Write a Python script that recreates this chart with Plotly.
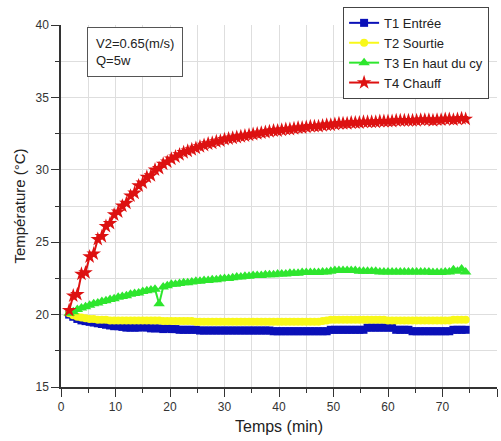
import plotly.graph_objects as go

# Time (min)
temps = [1.5, 2.25, 3.0, 3.75, 4.5, 5.25, 6.0, 6.75, 7.5, 8.25,
         9.0, 9.75, 10.5, 11.25, 12.0, 12.75, 13.5, 14.25, 15.0, 15.75,
         16.5, 17.25, 18.0, 18.75, 19.5, 20.25, 21.0, 21.75, 22.5, 23.25,
         24.0, 24.75, 25.5, 26.25, 27.0, 27.75, 28.5, 29.25, 30.0, 30.75,
         31.5, 32.25, 33.0, 33.75, 34.5, 35.25, 36.0, 36.75, 37.5, 38.25,
         39.0, 39.75, 40.5, 41.25, 42.0, 42.75, 43.5, 44.25, 45.0, 45.75,
         46.5, 47.25, 48.0, 48.75, 49.5, 50.25, 51.0, 51.75, 52.5, 53.25,
         54.0, 54.75, 55.5, 56.25, 57.0, 57.75, 58.5, 59.25, 60.0, 60.75,
         61.5, 62.25, 63.0, 63.75, 64.5, 65.25, 66.0, 66.75, 67.5, 68.25,
         69.0, 69.75, 70.5, 71.25, 72.0, 72.75, 73.5, 74.25]

t1_entree = [20.0, 19.85, 19.7, 19.6, 19.55, 19.5, 19.45, 19.4, 19.35, 19.3,
             19.25, 19.2, 19.2, 19.15, 19.1, 19.1, 19.1, 19.1, 19.15, 19.1,
             19.05, 19.05, 19.05, 19.0, 19.05, 19.0, 19.0, 18.95, 18.95, 18.95,
             18.95, 18.95, 18.9, 18.9, 18.9, 18.9, 18.9, 18.9, 18.9, 18.9,
             18.9, 18.9, 18.9, 18.9, 18.9, 18.9, 18.9, 18.9, 18.9, 18.9,
             18.85, 18.85, 18.85, 18.85, 18.85, 18.85, 18.85, 18.85, 18.85, 18.85,
             18.85, 18.85, 18.85, 18.85, 18.95, 18.95, 18.95, 18.95, 18.95, 18.95,
             18.95, 18.95, 18.95, 19.1, 19.1, 19.1, 19.1, 19.1, 19.1, 19.1,
             18.95, 18.95, 18.95, 18.95, 18.85, 18.85, 18.85, 18.85, 18.85, 18.85,
             18.85, 18.85, 18.85, 18.85, 18.95, 18.95, 18.95, 18.95]

t2_sortie = [20.1, 19.95, 19.85, 19.8, 19.75, 19.7, 19.7, 19.65, 19.65, 19.65,
             19.6, 19.6, 19.6, 19.6, 19.6, 19.6, 19.6, 19.6, 19.6, 19.6,
             19.6, 19.6, 19.6, 19.55, 19.55, 19.55, 19.55, 19.55, 19.55, 19.55,
             19.55, 19.5, 19.5, 19.5, 19.5, 19.5, 19.5, 19.5, 19.5, 19.5,
             19.5, 19.5, 19.5, 19.5, 19.5, 19.5, 19.5, 19.5, 19.5, 19.5,
             19.5, 19.5, 19.5, 19.5, 19.5, 19.5, 19.5, 19.5, 19.5, 19.5,
             19.5, 19.5, 19.55, 19.6, 19.65, 19.65, 19.65, 19.65, 19.65, 19.65,
             19.65, 19.65, 19.65, 19.65, 19.65, 19.65, 19.65, 19.65, 19.6, 19.6,
             19.6, 19.6, 19.6, 19.6, 19.6, 19.6, 19.6, 19.6, 19.6, 19.6,
             19.6, 19.6, 19.6, 19.6, 19.65, 19.65, 19.65, 19.65]

t3_haut = [20.1, 20.2, 20.35, 20.45, 20.55, 20.65, 20.75, 20.8, 20.9, 20.95,
           21.05, 21.1, 21.2, 21.25, 21.3, 21.4, 21.45, 21.5, 21.6, 21.65,
           21.7, 21.75, 20.75, 21.9, 22.0, 22.1, 22.1, 22.15, 22.2, 22.2,
           22.25, 22.3, 22.3, 22.35, 22.35, 22.4, 22.4, 22.45, 22.5, 22.5,
           22.55, 22.6, 22.6, 22.65, 22.65, 22.7, 22.7, 22.7, 22.75, 22.75,
           22.75, 22.8, 22.8, 22.8, 22.85, 22.85, 22.85, 22.9, 22.9, 22.9,
           22.9, 22.9, 22.95, 22.95, 23.0, 23.05, 23.05, 23.05, 23.05, 23.05,
           23.05, 23.0, 23.0, 23.0, 23.0, 23.0, 22.95, 22.95, 22.95, 22.95,
           22.95, 22.95, 22.95, 22.95, 22.95, 22.95, 22.95, 22.95, 22.95, 22.9,
           22.9, 22.9, 22.95, 22.95, 23.1, 23.0, 23.15, 22.95]

t4_chauff = [20.3, 21.3, 21.4, 22.8, 22.9, 24.0, 24.2, 25.2, 25.4, 26.1,
             26.3, 26.9, 27.1, 27.5, 27.7, 28.2, 28.4, 28.9, 29.1, 29.5,
             29.6, 30.0, 30.1, 30.4, 30.55, 30.75, 30.9, 31.05, 31.2, 31.3,
             31.4, 31.5, 31.6, 31.7, 31.8, 31.85, 31.95, 32.0, 32.1, 32.15,
             32.2, 32.25, 32.3, 32.35, 32.4, 32.45, 32.5, 32.55, 32.6, 32.65,
             32.7, 32.7, 32.75, 32.8, 32.8, 32.85, 32.9, 32.9, 32.95, 33.0,
             33.0, 33.0, 33.05, 33.1, 33.1, 33.15, 33.2, 33.2, 33.2, 33.25,
             33.25, 33.25, 33.3, 33.3, 33.3, 33.3, 33.35, 33.35, 33.35, 33.35,
             33.4, 33.4, 33.4, 33.4, 33.4, 33.4, 33.45, 33.45, 33.45, 33.4,
             33.45, 33.45, 33.5, 33.5, 33.45, 33.5, 33.55, 33.5]

series_names = ["T1 Entrée", "T2 Sourtie", "T3 En haut du cy", "T4 Chauff"]
series_values = [t1_entree, t2_sortie, t3_haut, t4_chauff]
series_colors = ["#0a10b8", "#f8f81a", "#2ee62e", "#dd1111"]
series_symbols = ["square", "circle", "triangle-up", "star"]
series_sizes = [8, 8, 10, 11]

x_range = [0, 80]
y_range = [15, 40]

FONT = "Arial, Liberation Sans, sans-serif"

fig = go.Figure()
for name, vals, col, sym, sz in zip(series_names, series_values, series_colors,
                                    series_symbols, series_sizes):
    fig.add_trace(go.Scatter(
        x=temps, y=vals, name=name, mode="lines+markers",
        line=dict(color=col, width=2),
        marker=dict(symbol=sym, size=sz, color=col, line=dict(width=0)),
    ))

grid_col = "#dedede"
axis_col = "#333333"

fig.update_layout(
    width=501, height=441,
    margin=dict(l=61, r=4, t=25, b=54),
    paper_bgcolor="white", plot_bgcolor="white",
    font=dict(family=FONT, color="#333333", size=12),
    showlegend=True,
    legend=dict(
        x=0.647, y=1.05, xanchor="left", yanchor="top",
        bgcolor="white", bordercolor="#444444", borderwidth=1,
        font=dict(family=FONT, size=13, color="#222222"),
        tracegroupgap=0, itemwidth=30,
    ),
    xaxis=dict(
        range=x_range, dtick=10, tick0=0,
        showline=True, linecolor=axis_col, linewidth=1.5,
        ticks="outside", ticklen=8, tickwidth=1.2, tickcolor=axis_col,
        showgrid=True, gridcolor=grid_col, gridwidth=1,
        zeroline=False,
        minor=dict(dtick=5, ticks="outside", ticklen=4, tickcolor=axis_col,
                   showgrid=True, gridcolor=grid_col, gridwidth=1),
        tickfont=dict(size=12, color="#333333"),
        title=dict(text="Temps (min)", font=dict(size=16, color="#222222"), standoff=8),
    ),
    yaxis=dict(
        range=y_range, dtick=5, tick0=15,
        showline=True, linecolor=axis_col, linewidth=1.5,
        ticks="outside", ticklen=8, tickwidth=1.2, tickcolor=axis_col,
        showgrid=True, gridcolor=grid_col, gridwidth=1,
        zeroline=False,
        minor=dict(dtick=2.5, ticks="outside", ticklen=4, tickcolor=axis_col,
                   showgrid=True, gridcolor=grid_col, gridwidth=1),
        tickfont=dict(size=12, color="#333333"),
        title=dict(text="Température (°C)", font=dict(size=15, color="#222222"), standoff=6),
    ),
    xaxis2=dict(
        overlaying="x", side="top", anchor="y", range=x_range, dtick=10, tick0=0,
        showline=True, linecolor=axis_col, linewidth=1.5,
        ticks="inside", ticklen=8, tickwidth=1.2, tickcolor=axis_col,
        showticklabels=False, showgrid=False, zeroline=False,
        minor=dict(dtick=5, ticks="inside", ticklen=4, tickcolor=axis_col, showgrid=False),
    ),
    yaxis2=dict(
        overlaying="y", side="right", anchor="x", range=y_range, dtick=5, tick0=15,
        showline=True, linecolor=axis_col, linewidth=1.5,
        ticks="inside", ticklen=8, tickwidth=1.2, tickcolor=axis_col,
        showticklabels=False, showgrid=False, zeroline=False,
        minor=dict(dtick=2.5, ticks="inside", ticklen=4, tickcolor=axis_col, showgrid=False),
    ),
)

fig.add_annotation(
    xref="paper", yref="paper", x=0.0596, y=0.994, xanchor="left", yanchor="top",
    text="V2=0.65(m/s)<br>Q=5w", showarrow=False, align="left",
    font=dict(family=FONT, size=13, color="#222222"),
    bordercolor="#555555", borderwidth=1, borderpad=8, bgcolor="white",
)

fig.write_html("out.html")
